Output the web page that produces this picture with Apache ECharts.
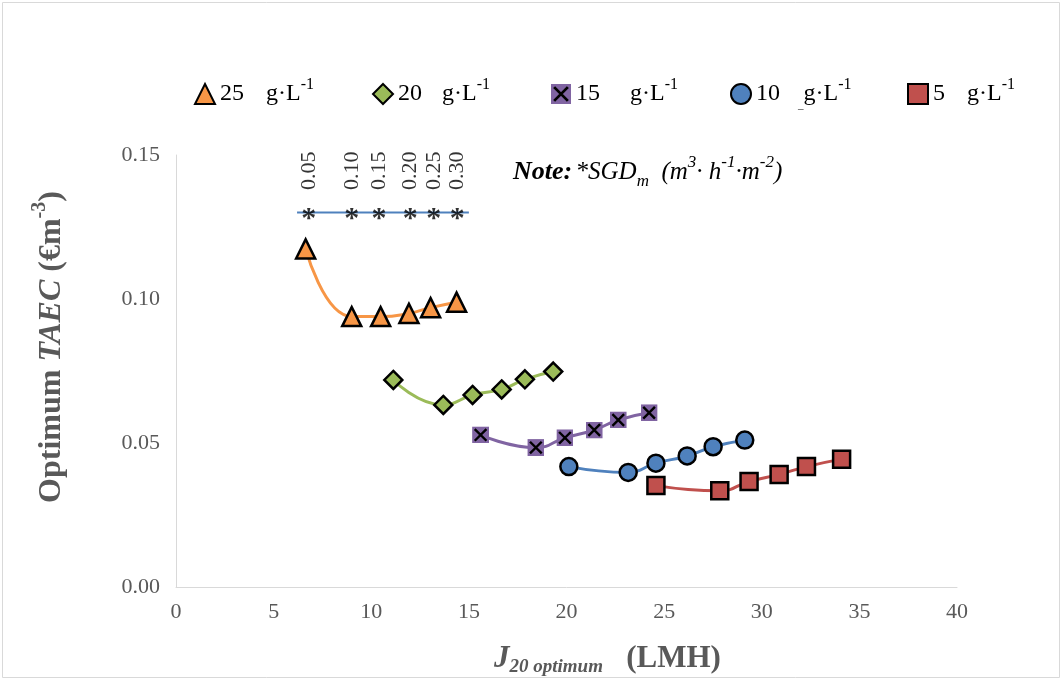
<!DOCTYPE html>
<html>
<head>
<meta charset="utf-8">
<script src="https://cdn.jsdelivr.net/npm/echarts@6/dist/echarts.min.js"></script>
<style>
  html, body { margin: 0; padding: 0; background: #fff; }
  #chart { width: 1063px; height: 681px; }
</style>
</head>
<body>
<div id="chart"></div>
<script>
// SGDm reference line (values written above the asterisks)
var sgdLabels = ['0.05', '0.10', '0.15', '0.20', '0.25', '0.30'];
var sgdX = [6.8, 9.0, 10.4, 12.0, 13.2, 14.4];
var sgdY = 0.130;
var sgdLineX = [6.2, 15.0];

// J20 optimum (LMH) vs optimum TAEC for each concentration
var j25 = [6.64, 9.00, 10.48, 11.93, 13.04, 14.37];
var taec25 = [0.1174, 0.0939, 0.0939, 0.0950, 0.0970, 0.0989];
var j20 = [11.13, 13.69, 15.19, 16.68, 17.87, 19.32];
var taec20 = [0.0719, 0.0632, 0.0667, 0.0686, 0.0721, 0.0748];
var j15 = [15.60, 18.43, 19.92, 21.42, 22.65, 24.23];
var taec15 = [0.0528, 0.0484, 0.0518, 0.0545, 0.0580, 0.0605];
var j10 = [20.12, 23.16, 24.58, 26.18, 27.51, 29.13];
var taec10 = [0.0418, 0.0398, 0.0430, 0.0455, 0.0487, 0.0510];
var j5 = [24.58, 27.85, 29.35, 30.89, 32.29, 34.09];
var taec5 = [0.0352, 0.0334, 0.0366, 0.0391, 0.0418, 0.0444];

var concNames = ['25', '20', '15', '10', '5'];
var xTicks = [0, 5, 10, 15, 20, 25, 30, 35, 40];
var yTicks = [0, 0.05, 0.10, 0.15];

function pairs(xs, ys) {
    return xs.map(function (x, i) { return [x, ys[i]]; });
}

var crossSquare = 'image://data:image/svg+xml;utf8,' + encodeURIComponent(
    '<svg xmlns="http://www.w3.org/2000/svg" width="32" height="32">' +
    '<rect width="32" height="32" fill="#8064a2"/>' +
    '<path d="M5 5L27 27M27 5L5 27" stroke="#000" stroke-width="4.5"/></svg>');

var font = '"Liberation Serif", "Times New Roman", serif';
var grey = '#595959';

function curve(name, xs, ys, color, symbol, size) {
    return {
        name: name,
        type: 'line',
        data: pairs(xs, ys),
        smooth: 0.5,
        symbol: symbol,
        symbolSize: size,
        showAllSymbol: true,
        lineStyle: { color: color, width: 3 },
        itemStyle: { color: color, borderColor: '#000', borderWidth: 2.5 },
        z: 3
    };
}

var legendNames = concNames.map(function (c) { return c + ' g·L-1'; });
var legendIcons = ['triangle', 'diamond', crossSquare, 'circle', 'rect'];
var legendLeft = [189, 367, 546, 725, 902];
var numWidth = [46, 44, 54, 42, 34];

var legends = legendNames.map(function (n, i) {
    return {
        top: 72,
        left: legendLeft[i],
        itemWidth: 20,
        itemHeight: 20,
        data: [{ name: n, icon: legendIcons[i] }],
        formatter: function (name) {
            var c = name.split(' ')[0];
            return '{n|' + c + '}' + (c === '10' ? '{d|_}' : '') + '{u|g·L}{s|-1}';
        },
        textStyle: {
            rich: {
                n: { fontFamily: font, fontSize: 24, color: '#000', lineHeight: 30, width: numWidth[i] },
                d: { fontFamily: font, fontSize: 11, color: '#000', verticalAlign: 'bottom', lineHeight: 30 },
                u: { fontFamily: font, fontSize: 24, color: '#000', lineHeight: 30 },
                s: { fontFamily: font, fontSize: 16, color: '#000', verticalAlign: 'top', lineHeight: 34 }
            }
        }
    };
});

var myChart = echarts.init(document.getElementById('chart'));
myChart.setOption({
    animation: false,
    textStyle: { fontFamily: font },
    graphic: [
        {
            type: 'rect',
            shape: { x: 2.5, y: 2.5, width: 1057, height: 675 },
            style: { fill: 'none', stroke: '#d9d9d9', lineWidth: 1 }
        },
        {
            type: 'text',
            x: 513,
            y: 172,
            style: {
                text: '{b|Note:} {i|*SGD}{sub|m}{i|  (m}{sup|3}{i|· h}{sup|-1}{i|·m}{sup|-2}{i|)}',
                verticalAlign: 'middle',
                rich: {
                    b: { fontFamily: font, fontSize: 26, fontWeight: 'bold', fontStyle: 'italic', fill: '#000', lineHeight: 32 },
                    i: { fontFamily: font, fontSize: 25, fontStyle: 'italic', fill: '#000', lineHeight: 32 },
                    sub: { fontFamily: font, fontSize: 17, fontStyle: 'italic', fill: '#000', verticalAlign: 'bottom', lineHeight: 26 },
                    sup: { fontFamily: font, fontSize: 17, fontStyle: 'italic', fill: '#000', verticalAlign: 'top', lineHeight: 36 }
                }
            }
        },
        {
            type: 'text',
            x: 52,
            y: 347,
            rotation: Math.PI / 2,
            style: {
                text: '{b|Optimum }{i|TAEC}{b| (€m}{s|-3}{b|)}',
                align: 'center',
                verticalAlign: 'middle',
                rich: {
                    b: { fontFamily: font, fontSize: 32, fontWeight: 'bold', fill: grey, lineHeight: 38 },
                    i: { fontFamily: font, fontSize: 32, fontWeight: 'bold', fontStyle: 'italic', fill: grey, lineHeight: 38 },
                    s: { fontFamily: font, fontSize: 20, fontWeight: 'bold', fill: grey, verticalAlign: 'top', lineHeight: 44 }
                }
            }
        },
        {
            type: 'text',
            x: 494,
            y: 659,
            style: {
                text: '{j|J}{sub|20 optimum}{b|   (LMH)}',
                verticalAlign: 'middle',
                rich: {
                    j: { fontFamily: font, fontSize: 31, fontWeight: 'bold', fontStyle: 'italic', fill: grey, lineHeight: 36 },
                    sub: { fontFamily: font, fontSize: 19, fontWeight: 'bold', fontStyle: 'italic', fill: grey, verticalAlign: 'bottom', lineHeight: 26 },
                    b: { fontFamily: font, fontSize: 31, fontWeight: 'bold', fill: grey, lineHeight: 36 }
                }
            }
        }
    ],
    legend: legends,
    grid: { left: 176, right: 106, top: 155, bottom: 94 },
    xAxis: {
        type: 'value',
        min: xTicks[0],
        max: xTicks[xTicks.length - 1],
        interval: 5,
        axisLine: { show: true, lineStyle: { color: '#d9d9d9', width: 1 } },
        axisTick: { show: false },
        splitLine: { show: false },
        axisLabel: { color: grey, fontSize: 22, fontFamily: font, margin: 14 }
    },
    yAxis: {
        type: 'value',
        min: yTicks[0],
        max: yTicks[yTicks.length - 1],
        interval: 0.05,
        axisLine: { show: true, lineStyle: { color: '#d9d9d9', width: 1 } },
        axisTick: { show: false },
        splitLine: { show: false },
        axisLabel: {
            color: grey, fontSize: 22, fontFamily: font, margin: 16,
            formatter: function (v) { return v.toFixed(2); }
        }
    },
    series: [
        {
            name: 'SGD line',
            type: 'line',
            data: sgdLineX.map(function (x) { return [x, sgdY]; }),
            symbol: 'none',
            lineStyle: { color: '#4f81bd', width: 2 },
            z: 2
        },
        {
            name: 'SGD star',
            type: 'scatter',
            data: sgdX.map(function (x) { return [x, sgdY]; }),
            symbolSize: 1,
            itemStyle: { color: 'rgba(0,0,0,0)' },
            label: {
                show: true,
                position: 'inside',
                formatter: '*',
                fontFamily: font,
                fontWeight: 'bold',
                fontSize: 30,
                color: '#000',
                offset: [0, 7]
            },
            z: 4
        },
        {
            name: 'SGD value',
            type: 'scatter',
            data: sgdX.map(function (x, i) { return { value: [x, sgdY], label: { formatter: sgdLabels[i] } }; }),
            symbolSize: 1,
            itemStyle: { color: 'rgba(0,0,0,0)' },
            label: {
                show: true,
                position: 'top',
                distance: 22,
                rotate: 90,
                align: 'left',
                verticalAlign: 'middle',
                fontFamily: font,
                fontSize: 22,
                color: '#000'
            },
            z: 4
        },
        curve(legendNames[0], j25, taec25, '#f79646', 'triangle', 19),
        curve(legendNames[1], j20, taec20, '#9bbb59', 'diamond', 18),
        {
            name: legendNames[2],
            type: 'line',
            data: pairs(j15, taec15),
            smooth: 0.5,
            symbol: crossSquare,
            symbolSize: 17,
            lineStyle: { color: '#8064a2', width: 3 },
            itemStyle: { color: '#8064a2' },
            z: 3
        },
        curve(legendNames[3], j10, taec10, '#4f81bd', 'circle', 17),
        curve(legendNames[4], j5, taec5, '#c0504d', 'rect', 17)
    ]
});
</script>
</body>
</html>
